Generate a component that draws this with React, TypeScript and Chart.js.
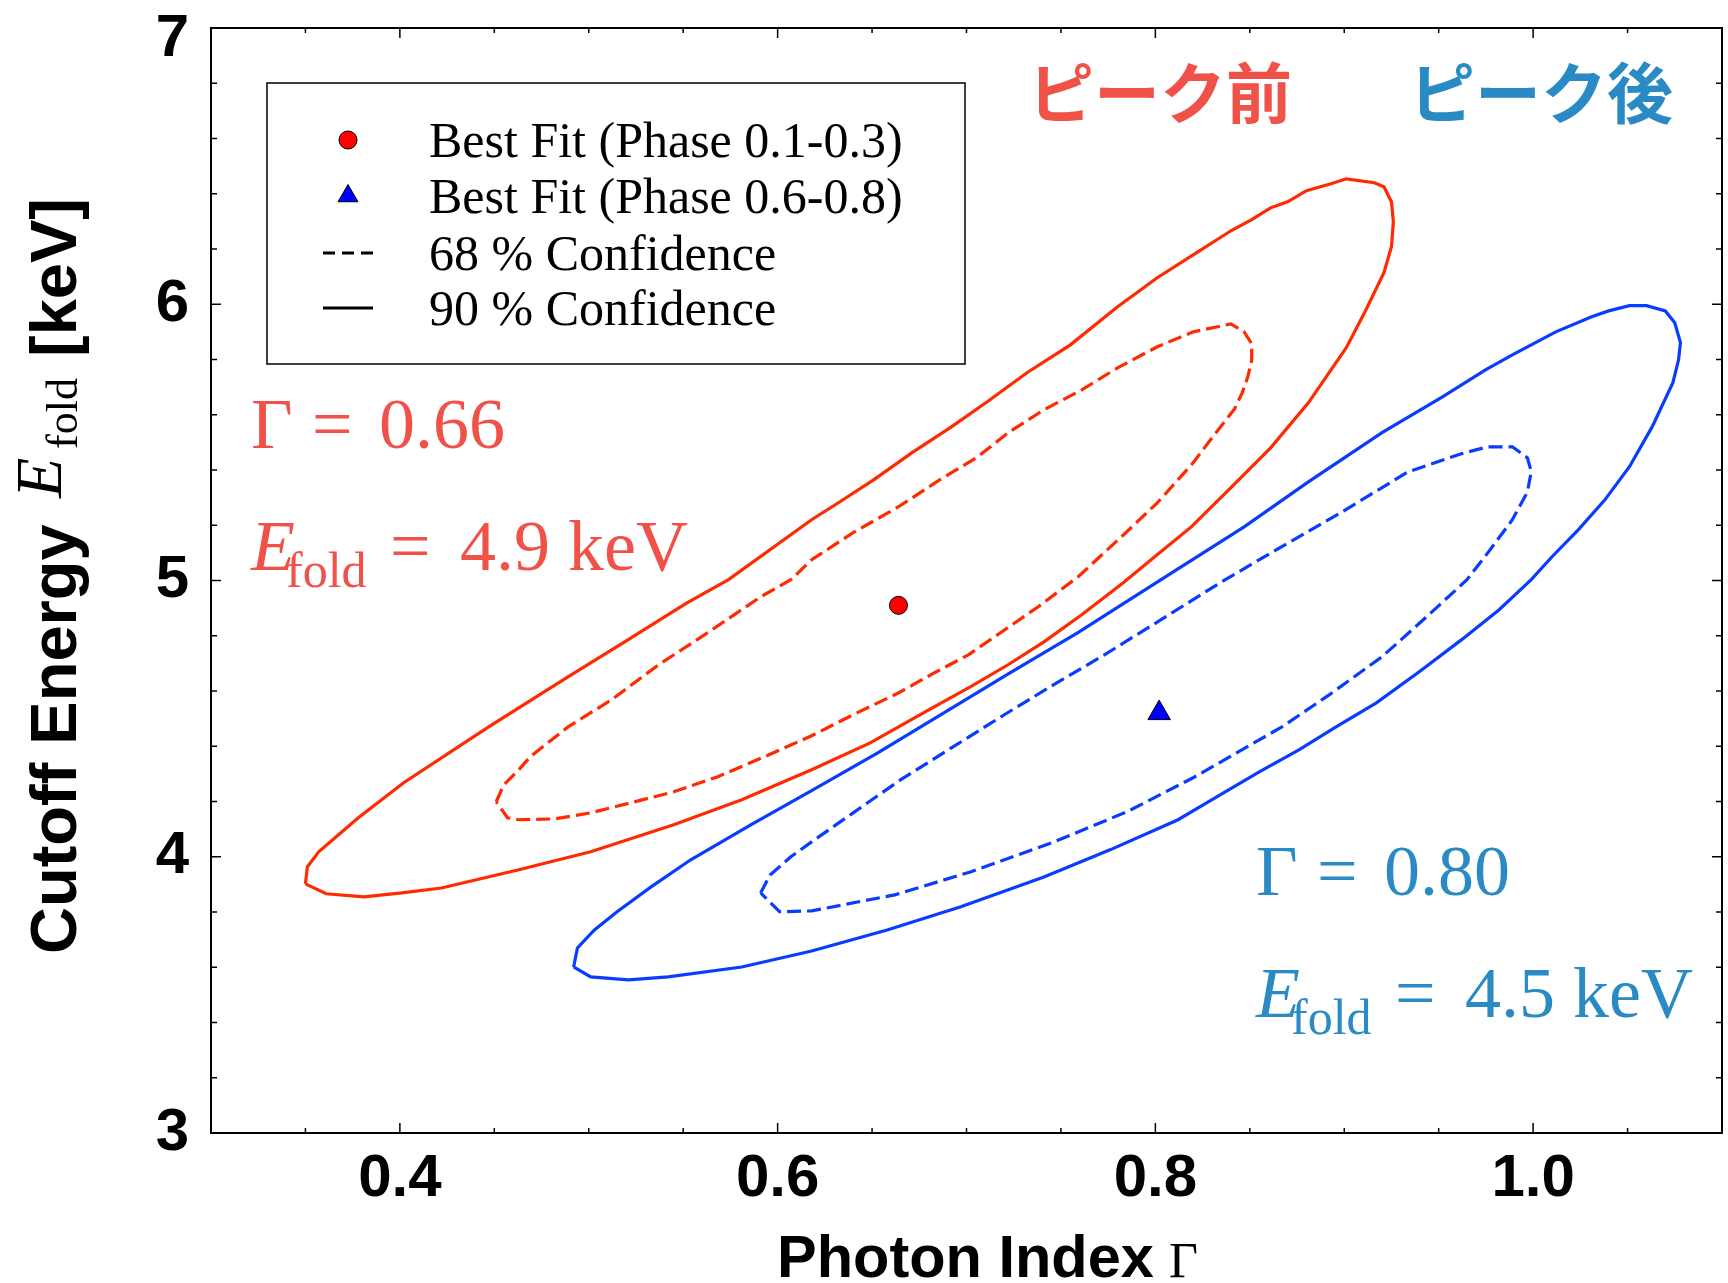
import React, { useEffect, useRef } from 'react';
import { Chart, registerables } from 'chart.js';

Chart.register(...registerables);

const W = 1728;
const H = 1283;

// ---- Data (Photon index Γ, cutoff energy E_fold) ----
const red90Gamma = [0.350, 0.351, 0.357, 0.378, 0.402, 0.447, 0.489, 0.519, 0.552, 0.574, 0.618, 0.633, 0.651, 0.671, 0.692, 0.711, 0.732, 0.755, 0.780, 0.801, 0.820, 0.840, 0.851, 0.861, 0.870, 0.880, 0.893, 0.901, 0.916, 0.921, 0.925, 0.926, 0.925, 0.921, 0.911, 0.901, 0.881, 0.861, 0.840, 0.819, 0.799, 0.783, 0.761, 0.741, 0.722, 0.702, 0.680, 0.649, 0.618, 0.581, 0.545, 0.501, 0.463, 0.422, 0.401, 0.381, 0.361, 0.350];
const red90Efold = [3.902, 3.963, 4.018, 4.141, 4.268, 4.470, 4.651, 4.778, 4.919, 5.003, 5.220, 5.285, 5.365, 5.462, 5.556, 5.647, 5.752, 5.853, 5.991, 6.096, 6.179, 6.266, 6.306, 6.349, 6.371, 6.411, 6.436, 6.454, 6.440, 6.425, 6.371, 6.299, 6.208, 6.114, 5.973, 5.842, 5.643, 5.480, 5.336, 5.194, 5.082, 4.992, 4.876, 4.778, 4.695, 4.615, 4.532, 4.412, 4.315, 4.206, 4.116, 4.018, 3.953, 3.887, 3.869, 3.855, 3.866, 3.902];

const red68Gamma = [0.451, 0.455, 0.463, 0.469, 0.489, 0.512, 0.537, 0.563, 0.591, 0.607, 0.618, 0.640, 0.664, 0.686, 0.706, 0.722, 0.741, 0.761, 0.780, 0.801, 0.820, 0.840, 0.847, 0.851, 0.851, 0.849, 0.846, 0.842, 0.828, 0.820, 0.801, 0.782, 0.759, 0.738, 0.718, 0.701, 0.683, 0.664, 0.642, 0.618, 0.593, 0.568, 0.545, 0.522, 0.501, 0.482, 0.463, 0.457, 0.451];
const red68Efold = [4.199, 4.260, 4.315, 4.362, 4.470, 4.568, 4.695, 4.811, 4.941, 5.003, 5.075, 5.173, 5.267, 5.365, 5.448, 5.535, 5.618, 5.690, 5.770, 5.846, 5.900, 5.929, 5.900, 5.857, 5.799, 5.738, 5.680, 5.622, 5.499, 5.426, 5.281, 5.158, 5.013, 4.905, 4.811, 4.731, 4.666, 4.593, 4.521, 4.438, 4.362, 4.289, 4.235, 4.195, 4.159, 4.137, 4.134, 4.141, 4.199];

const blue90Gamma = [0.492, 0.494, 0.503, 0.515, 0.533, 0.554, 0.586, 0.618, 0.653, 0.688, 0.723, 0.759, 0.803, 0.847, 0.881, 0.920, 0.952, 0.975, 0.989, 1.012, 1.031, 1.040, 1.051, 1.060, 1.070, 1.075, 1.078, 1.077, 1.074, 1.063, 1.051, 1.038, 1.024, 1.010, 0.999, 0.982, 0.962, 0.939, 0.917, 0.895, 0.876, 0.855, 0.828, 0.812, 0.776, 0.741, 0.697, 0.658, 0.618, 0.581, 0.542, 0.521, 0.501, 0.492];
const blue90Efold = [3.601, 3.670, 3.735, 3.801, 3.891, 3.989, 4.116, 4.239, 4.376, 4.521, 4.666, 4.811, 5.003, 5.194, 5.357, 5.535, 5.665, 5.763, 5.817, 5.900, 5.955, 5.976, 5.995, 5.995, 5.976, 5.933, 5.861, 5.799, 5.716, 5.556, 5.412, 5.292, 5.184, 5.086, 5.003, 4.894, 4.785, 4.666, 4.557, 4.467, 4.387, 4.307, 4.199, 4.134, 4.025, 3.927, 3.819, 3.735, 3.659, 3.601, 3.565, 3.554, 3.565, 3.601];

const blue68Gamma = [0.591, 0.596, 0.607, 0.618, 0.640, 0.665, 0.692, 0.720, 0.746, 0.773, 0.803, 0.835, 0.864, 0.899, 0.934, 0.962, 0.976, 0.989, 0.997, 0.999, 0.997, 0.989, 0.976, 0.965, 0.943, 0.920, 0.892, 0.867, 0.830, 0.820, 0.785, 0.745, 0.702, 0.662, 0.618, 0.601, 0.591];
const blue68Efold = [3.869, 3.934, 4.000, 4.054, 4.159, 4.278, 4.394, 4.514, 4.622, 4.731, 4.858, 4.995, 5.111, 5.249, 5.394, 5.459, 5.484, 5.484, 5.444, 5.394, 5.321, 5.220, 5.100, 5.003, 4.865, 4.724, 4.586, 4.470, 4.325, 4.286, 4.163, 4.050, 3.945, 3.862, 3.804, 3.801, 3.869];

const bestFitRed = { gamma: 0.664, efold: 4.91 };
const bestFitBlue = { gamma: 0.802, efold: 4.52 };

// ---- Axes ----
const xTickValues = [0.3, 0.35, 0.4, 0.45, 0.5, 0.55, 0.6, 0.65, 0.7, 0.75, 0.8, 0.85, 0.9, 0.95, 1.0, 1.05, 1.1];
const xTickLabels = ['', '', '0.4', '', '', '', '0.6', '', '', '', '0.8', '', '', '', '1.0', '', ''];
const yTickValues = [3, 3.2, 3.4, 3.6, 3.8, 4, 4.2, 4.4, 4.6, 4.8, 5, 5.2, 5.4, 5.6, 5.8, 6, 6.2, 6.4, 6.6, 6.8, 7];
const yTickLabels = ['3', '', '', '', '', '4', '', '', '', '', '5', '', '', '', '', '6', '', '', '', '', '7'];

const legendLabels = ['Best Fit (Phase 0.1-0.3)', 'Best Fit (Phase 0.6-0.8)', '68 % Confidence', '90 % Confidence'];

const RED_LINE = '#ff2a00';
const BLUE_LINE = '#0a3cff';
const RED_TEXT = '#f0524a';
const BLUE_TEXT = '#2a8ac4';

const SANS = '"Liberation Sans", Arial, sans-serif';
const SERIF = '"Liberation Serif", "Times New Roman", serif';
const CJK = '"Noto Sans CJK JP", sans-serif';

const toPts = (gs: number[], es: number[]) => gs.map((g, i) => ({ x: g, y: es[i] }));

const idx = (arr: number[], v: number) => arr.findIndex((a) => Math.abs(a - v) < 1e-9);

type Piece = { text: string; font: string; dx: number; dy?: number };
function drawPieces(ctx: CanvasRenderingContext2D, pieces: Piece[], x: number, y: number) {
  for (const p of pieces) {
    ctx.font = p.font;
    ctx.fillText(p.text, x + p.dx, y + (p.dy || 0));
  }
}

const decorPlugin = {
  id: 'decor',
  afterDraw(chart: any) {
    const { ctx, chartArea: a, scales } = chart;
    const xs = scales.x;
    const ys = scales.y;
    ctx.save();
    // inward ticks
    ctx.strokeStyle = '#000';
    ctx.lineWidth = 1.5;
    const seg = (x1: number, y1: number, x2: number, y2: number) => {
      ctx.beginPath();
      ctx.moveTo(x1, y1);
      ctx.lineTo(x2, y2);
      ctx.stroke();
    };
    xTickValues.forEach((v, i) => {
      if (i === 0 || i === xTickValues.length - 1) return;
      const px = xs.getPixelForValue(v);
      const len = xTickLabels[i] ? 10 : 5;
      seg(px, a.bottom, px, a.bottom - len);
      seg(px, a.top, px, a.top + len);
    });
    yTickValues.forEach((v, i) => {
      if (i === 0 || i === yTickValues.length - 1) return;
      const py = ys.getPixelForValue(v);
      const len = yTickLabels[i] ? 10 : 6;
      seg(a.left, py, a.left + len, py);
      seg(a.right, py, a.right - len, py);
    });
    // frame
    ctx.lineWidth = 2;
    ctx.strokeRect(a.left, a.top, a.right - a.left, a.bottom - a.top);

    // legend box
    ctx.lineWidth = 1.5;
    ctx.strokeStyle = '#000';
    ctx.strokeRect(267, 83, 698, 281);
    const mx = 348;
    const rows = [157, 213, 270, 325];
    // circle
    ctx.beginPath();
    ctx.arc(mx, 140, 9, 0, Math.PI * 2);
    ctx.fillStyle = '#ff0000';
    ctx.fill();
    ctx.lineWidth = 1;
    ctx.stroke();
    // triangle
    const tr = 11.5;
    const tcy = 196;
    ctx.beginPath();
    ctx.moveTo(mx, tcy - tr);
    ctx.lineTo(mx + tr * Math.sin((2 * Math.PI) / 3), tcy - tr * Math.cos((2 * Math.PI) / 3));
    ctx.lineTo(mx + tr * Math.sin((4 * Math.PI) / 3), tcy - tr * Math.cos((4 * Math.PI) / 3));
    ctx.closePath();
    ctx.fillStyle = '#0000ff';
    ctx.fill();
    ctx.stroke();
    // line samples
    ctx.lineWidth = 3;
    ctx.setLineDash([12, 7]);
    seg(323, 253, 373, 253);
    ctx.setLineDash([]);
    seg(323, 308, 373, 308);
    // legend text
    ctx.fillStyle = '#000';
    ctx.textBaseline = 'alphabetic';
    ctx.textAlign = 'left';
    ctx.font = `50px ${SERIF}`;
    legendLabels.forEach((t, i) => ctx.fillText(t, 429, rows[i]));

    // Japanese labels
    ctx.font = `bold 66px ${CJK}`;
    ctx.textBaseline = 'middle';
    ctx.fillStyle = RED_TEXT;
    ctx.fillText('ピーク前', 1028, 93);
    ctx.fillStyle = BLUE_TEXT;
    ctx.fillText('ピーク後', 1409, 93);

    // parameter annotations
    ctx.textBaseline = 'alphabetic';
    const big = `72px ${SERIF}`;
    const ital = `italic 72px ${SERIF}`;
    const sub = `50px ${SERIF}`;
    const gammaLine = (val: string): Piece[] => [
      { text: 'Γ', font: big, dx: 0 },
      { text: '=', font: big, dx: 61 },
      { text: val, font: big, dx: 128 },
    ];
    const efoldLine = (val: string): Piece[] => [
      { text: 'E', font: ital, dx: 0 },
      { text: 'fold', font: sub, dx: 35, dy: 17 },
      { text: '=', font: big, dx: 139 },
      { text: val, font: big, dx: 209 },
    ];
    ctx.fillStyle = RED_TEXT;
    drawPieces(ctx, gammaLine('0.66'), 251, 448);
    drawPieces(ctx, efoldLine('4.9 keV'), 251, 570);
    ctx.fillStyle = BLUE_TEXT;
    drawPieces(ctx, gammaLine('0.80'), 1256, 895);
    drawPieces(ctx, efoldLine('4.5 keV'), 1256, 1017);

    // x axis title
    ctx.fillStyle = '#000';
    drawPieces(ctx, [
      { text: 'Photon Index', font: `bold 59.5px ${SANS}`, dx: 0 },
      { text: 'Γ', font: `50px ${SERIF}`, dx: 392 },
    ], 777, 1277);

    // y axis title (rotated)
    ctx.save();
    ctx.translate(76, 954);
    ctx.rotate(-Math.PI / 2);
    drawPieces(ctx, [
      { text: 'Cutoff Energy', font: `bold 65px ${SANS}`, dx: 0 },
      { text: 'E', font: `italic 66px ${SERIF}`, dx: 456, dy: -15 },
      { text: 'fold', font: `44px ${SERIF}`, dx: 505, dy: 1 },
      { text: '[keV]', font: `bold 65px ${SANS}`, dx: 597 },
    ], 0, 0);
    ctx.restore();

    ctx.restore();
  },
};

export default function App() {
  const ref = useRef<HTMLCanvasElement>(null);
  useEffect(() => {
    if (!ref.current) return;
    const contour = (label: string, gs: number[], es: number[], color: string, dashed: boolean) => ({
      type: 'scatter' as const,
      label,
      data: toPts(gs, es),
      showLine: true,
      borderColor: color,
      borderWidth: 3.2,
      borderDash: dashed ? [14, 6] : [],
      pointRadius: 0,
      pointHoverRadius: 0,
      tension: 0,
      fill: false,
      order: 2,
    });
    const chart = new Chart(ref.current, {
      type: 'scatter',
      data: {
        datasets: [
          {
            label: legendLabels[0],
            data: [{ x: bestFitRed.gamma, y: bestFitRed.efold }],
            pointStyle: 'circle',
            pointRadius: 9,
            backgroundColor: '#ff0000',
            borderColor: '#000',
            borderWidth: 1,
            order: 0,
          },
          {
            label: legendLabels[1],
            data: [{ x: bestFitBlue.gamma, y: bestFitBlue.efold }],
            pointStyle: 'triangle',
            pointRadius: 13,
            backgroundColor: '#0000ff',
            borderColor: '#000',
            borderWidth: 1,
            order: 0,
          },
          contour('Phase 0.1-0.3 90%', red90Gamma, red90Efold, RED_LINE, false),
          contour('Phase 0.1-0.3 68%', red68Gamma, red68Efold, RED_LINE, true),
          contour('Phase 0.6-0.8 90%', blue90Gamma, blue90Efold, BLUE_LINE, false),
          contour('Phase 0.6-0.8 68%', blue68Gamma, blue68Efold, BLUE_LINE, true),
        ] as any,
      },
      options: {
        responsive: false,
        animation: false,
        devicePixelRatio: 1,
        layout: { autoPadding: false, padding: { top: 28, right: 6, left: 0, bottom: 0 } },
        plugins: { legend: { display: false }, tooltip: { enabled: false } },
        scales: {
          x: {
            type: 'linear',
            min: 0.3,
            max: 1.1,
            afterBuildTicks: (s: any) => {
              s.ticks = xTickValues.map((v) => ({ value: v }));
            },
            afterFit: (s: any) => {
              s.height = 150;
              s.paddingLeft = 0;
              s.paddingRight = 0;
            },
            grid: { display: false, drawTicks: false },
            border: { display: false },
            ticks: {
              autoSkip: false,
              maxRotation: 0,
              minRotation: 0,
              padding: 0,
              color: '#000',
              font: { family: SANS, size: 60, weight: 'bold', lineHeight: 92 / 60 },
              callback: (v: any) => {
                const i = idx(xTickValues, Number(v));
                return i >= 0 ? xTickLabels[i] : '';
              },
            },
          },
          y: {
            type: 'linear',
            min: 3,
            max: 7,
            afterBuildTicks: (s: any) => {
              s.ticks = yTickValues.map((v) => ({ value: v }));
            },
            afterFit: (s: any) => {
              s.width = 211;
              s.paddingTop = 0;
              s.paddingBottom = 0;
            },
            grid: { display: false, drawTicks: false },
            border: { display: false },
            ticks: {
              autoSkip: false,
              padding: 22,
              color: '#000',
              font: { family: SANS, size: 60, weight: 'bold', lineHeight: 22 / 60 },
              callback: (v: any) => {
                const i = idx(yTickValues, Number(v));
                if (i < 0) return '';
                // top label sits slightly below its tick in the original
                return i === yTickValues.length - 1 ? ['', yTickLabels[i]] : yTickLabels[i];
              },
            },
          },
        },
      } as any,
      plugins: [decorPlugin],
    });
    return () => chart.destroy();
  }, []);
  return (
    <div style={{ position: 'fixed', left: 0, top: 0, width: W, height: H, background: '#fff' }}>
      <canvas ref={ref} width={W} height={H} style={{ width: W, height: H, display: 'block' }} />
    </div>
  );
}
